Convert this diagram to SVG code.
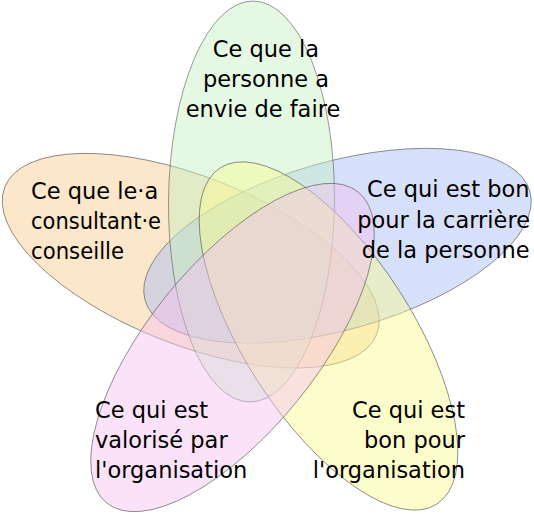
<svg xmlns="http://www.w3.org/2000/svg" width="534" height="514" viewBox="0 0 534 514">
  <style>
    .set { fill-opacity: 0.45; stroke: #555; stroke-opacity: 0.75; stroke-width: 0.8; }
    .lbl { font-family: "DejaVu Sans", "Liberation Sans", sans-serif; font-size: 22.5px; fill: #000; }
    .mid { text-anchor: middle; }
    .end { text-anchor: end; }
  </style>
  <rect x="0" y="0" width="534" height="514" fill="#ffffff"/>
  <g id="sets">
    <g id="set-orange"><ellipse class="set" cx="190.7" cy="260.7" rx="200" ry="84" fill="#F8CA8B" transform="rotate(21.6 190.7 260.7)"/></g>
    <g id="set-blue"><ellipse class="set" cx="337.5" cy="245.8" rx="200" ry="84" fill="#A6BAF4" transform="rotate(-15.8 337.5 245.8)"/></g>
    <g id="set-green"><ellipse class="set" cx="251.5" cy="201.5" rx="83" ry="200.5" fill="#C3EFC1" transform="rotate(0.5 251.5 201.5)"/></g>
    <g id="set-yellow"><ellipse class="set" cx="328.5" cy="336" rx="200" ry="84" fill="#FBFB8E" transform="rotate(57.2 328.5 336)"/></g>
    <g id="set-pink"><ellipse class="set" cx="232.5" cy="347.5" rx="200" ry="84" fill="#F5C1F2" fill-opacity="0.42" transform="rotate(-51 232.5 347.5)"/></g>
  </g>
  <g id="labels">
    <g id="label-green" class="lbl mid">
      <text x="266" y="56.5">Ce que la</text>
      <text x="266" y="87">personne a</text>
      <text x="263" y="117">envie de faire</text>
    </g>
    <g id="label-orange" class="lbl">
      <text x="31" y="198.5">Ce que le·a</text>
      <text x="31" y="228.5" textLength="130" lengthAdjust="spacingAndGlyphs">consultant·e</text>
      <text x="31" y="258.5" textLength="93" lengthAdjust="spacingAndGlyphs">conseille</text>
    </g>
    <g id="label-blue" class="lbl end">
      <text x="529.5" y="197">Ce qui est bon</text>
      <text x="530" y="227.5">pour la carrière</text>
      <text x="529.5" y="258">de la personne</text>
    </g>
    <g id="label-pink" class="lbl">
      <text x="95" y="417.5">Ce qui est</text>
      <text x="95" y="448">valorisé par</text>
      <text x="95" y="478">l'organisation</text>
    </g>
    <g id="label-yellow" class="lbl end">
      <text x="465" y="417.5">Ce qui est</text>
      <text x="465" y="448">bon pour</text>
      <text x="465" y="478">l'organisation</text>
    </g>
  </g>
</svg>
